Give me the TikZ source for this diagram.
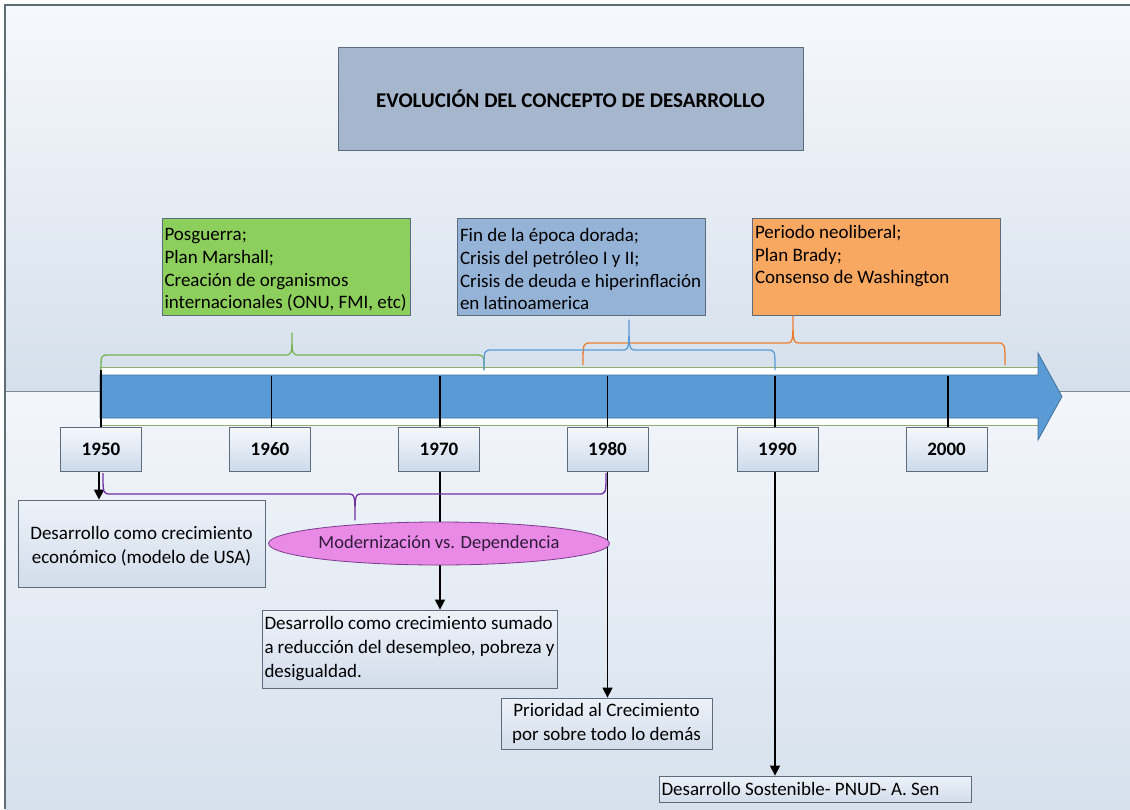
\documentclass[tikz,border=0pt]{standalone}
\usepackage{fontspec}
\setmainfont{Carlito}
\usetikzlibrary{arrows.meta,shapes.geometric}
\definecolor{bgA}{HTML}{F6F8FC}
\definecolor{bgB}{HTML}{D5E0EC}
\definecolor{bgC}{HTML}{F3F6FB}
\definecolor{bgD}{HTML}{D6E1ED}
\definecolor{bgline}{HTML}{7D8A96}
\definecolor{frame}{HTML}{5E6E74}
\definecolor{titlefill}{HTML}{A6B6CC}
\definecolor{boxline}{HTML}{5C6C7C}
\definecolor{greenfill}{HTML}{8DCF5C}
\definecolor{bluefill}{HTML}{95B3D7}
\definecolor{orangefill}{HTML}{F9A862}
\definecolor{greenbrace}{HTML}{77B352}
\definecolor{bluebrace}{HTML}{5B9BD5}
\definecolor{orangebrace}{HTML}{ED7D31}
\definecolor{purplebrace}{HTML}{7030A0}
\definecolor{arrowblue}{HTML}{5B9BD5}
\definecolor{arrowdark}{HTML}{41719C}
\definecolor{bandline}{HTML}{8FAE6E}
\definecolor{ellfill}{HTML}{E98AE6}
\definecolor{ellline}{HTML}{7A3D8E}
\definecolor{elltext}{HTML}{2E1A3A}
\definecolor{descA}{HTML}{EDF2F9}
\definecolor{descB}{HTML}{D2DDEB}
\definecolor{yearA}{HTML}{F5F8FC}
\definecolor{yearB}{HTML}{CCDAEB}
\newcommand{\hbrace}[7]{% color, x1, x2, xm, yh, yend, ytip
  \draw[#1, line width=1.3pt, line join=round]
    (#2,#6) .. controls (#2,#5) and (#2,#5) .. ({#2+8},#5)
    -- ({#4-8},#5) .. controls (#4,#5) and (#4,#5) .. (#4,#7)
    .. controls (#4,#5) and (#4,#5) .. ({#4+8},#5)
    -- ({#3-8},#5) .. controls (#3,#5) and (#3,#5) .. (#3,#6);}
\newcommand{\topstrut}{\rule{0pt}{19pt}}
\tikzset{
  titlebox/.style={draw=boxline, line width=1pt, fill=titlefill, minimum width=465pt,
    minimum height=103pt, inner sep=0pt, font=\bfseries\fontsize{21}{25}\selectfont},
  evbox/.style={draw=boxline, line width=0.8pt, minimum width=248pt, minimum height=97pt,
    text width=243pt, inner xsep=2.5pt, inner ysep=0pt, align=flush left,
    font=\fontsize{19}{22.7}\selectfont},
  yearbox/.style={draw=boxline, line width=0.8pt, top color=yearA, bottom color=yearB,
    minimum width=81pt, minimum height=44pt, inner sep=0pt,
    font=\bfseries\fontsize{19}{22}\selectfont},
  descbox/.style={draw=boxline, line width=0.8pt, top color=descA, bottom color=descB,
    inner xsep=2.5pt, inner ysep=0pt, font=\fontsize{19}{24}\selectfont},
  tick/.style={black, line width=1.5pt},
  arr/.style={black, line width=1.5pt, -{Triangle[width=10pt,length=10pt]}},
}
\begin{document}
\begin{tikzpicture}[x=1pt,y=-1pt]
\useasboundingbox (0,0) rectangle (1130,809);
\fill[white] (0,0) rectangle (1130,809);
\shade[top color=bgA, bottom color=bgB] (5,5) rectangle (1130,391);
\shade[top color=bgC, bottom color=bgD] (5,391) rectangle (1130,809);
\draw[bgline, line width=0.8pt] (5,391) -- (1130,391);
\draw[frame, line width=1.5pt] (5,809) -- (5,5) -- (1130,5);

% title
\node[titlebox] (title) at (570.5,98.5) {EVOLUCIÓN DEL CONCEPTO DE DESARROLLO};

% event boxes
\node[evbox, fill=greenfill] (ev1) at (286,266.5)
  {\topstrut Posguerra;\\Plan Marshall;\\Creación de organismos\\internacionales (ONU, FMI, etc)};
\node[evbox, fill=bluefill] (ev2) at (581.5,266.5)
  {\topstrut Fin de la época dorada;\\Crisis del petróleo I y II;\\Crisis de deuda e hiperinflación\\en latinoamerica};
\node[evbox, fill=orangefill] (ev3) at (876.5,266.5)
  {\topstrut Periodo neoliberal;\\Plan Brady;\\Consenso de Washington\\\strut};

% timeline band and arrow
\draw[bandline, line width=0.8pt, fill=white] (100,367) rectangle (1040,425);
\draw[arrowdark, line width=0.8pt, fill=arrowblue, line join=miter]
  (100,375) -- (1038,375) -- (1038,353) -- (1062,396.5) -- (1038,440) -- (1038,418) -- (100,418) -- cycle;

% braces
\hbrace{greenbrace}{101}{484}{292}{355}{370}{333}
\hbrace{orangebrace}{583}{1005}{793}{343}{365}{316}
\hbrace{bluebrace}{484}{775}{629}{350}{370}{320}

% year boxes
\node[yearbox] (y1950) at (101,449.5) {1950};
\node[yearbox] (y1960) at (270,449.5) {1960};
\node[yearbox] (y1970) at (439,449.5) {1970};
\node[yearbox] (y1980) at (607.5,449.5) {1980};
\node[yearbox] (y1990) at (777.5,449.5) {1990};
\node[yearbox] (y2000) at (946.5,449.5) {2000};

% ticks
\draw[tick] (y1950.north) -- ++(0,-57);
\draw[tick] ([xshift=1.5pt]y1960.north) -- ++(0,-51);
\draw[tick] ([xshift=1pt]y1970.north) -- ++(0,-51);
\draw[tick] (y1980.north) -- ++(0,-51);
\draw[tick] ([xshift=-2.5pt]y1990.north) -- ++(0,-51);
\draw[tick] ([xshift=1.5pt]y2000.north) -- ++(0,-51);

% description boxes
\node[descbox, minimum width=247pt, minimum height=87pt, align=center] (d1) at (141.5,543.5)
  {\topstrut Desarrollo como crecimiento\\económico (modelo de USA)};
\node[descbox, minimum width=295pt, minimum height=78pt, text width=290pt, align=flush left] (d2) at (409.5,649)
  {Desarrollo como crecimiento sumado\\a reducción del desempleo, pobreza y\\desigualdad.};
\node[descbox, minimum width=211pt, minimum height=51pt, align=center] (d3) at (606.5,723.5)
  {Prioridad al Crecimiento\\por sobre todo lo demás};
\node[descbox, minimum width=312pt, minimum height=26pt, text width=307pt, align=flush left] (d4) at (815,789)
  {Desarrollo Sostenible- PNUD- A. Sen};

% arrows
\draw[arr] ([xshift=-2pt]y1950.south) -- ([xshift=-2pt]y1950.south |- d1.north);
\draw[arr] ([xshift=1pt]y1970.south) -- ([xshift=1pt]y1970.south |- d2.north);
\draw[arr] (y1980.south) -- (y1980.south |- d3.north);
\draw[arr] ([xshift=-2.5pt]y1990.south) -- ([xshift=-2.5pt]y1990.south |- d4.north);

% purple brace (opening upward)
\hbrace{purplebrace}{103}{606}{355}{494}{473}{520}

% ellipse
\node[ellipse, draw=ellline, line width=0.8pt, fill=ellfill, minimum width=339pt,
  minimum height=43pt, inner sep=0pt, font=\fontsize{18.5}{22}\selectfont, text=elltext]
  (mod) at (439,543.5) {Modernización vs. Dependencia};
\end{tikzpicture}
\end{document}
